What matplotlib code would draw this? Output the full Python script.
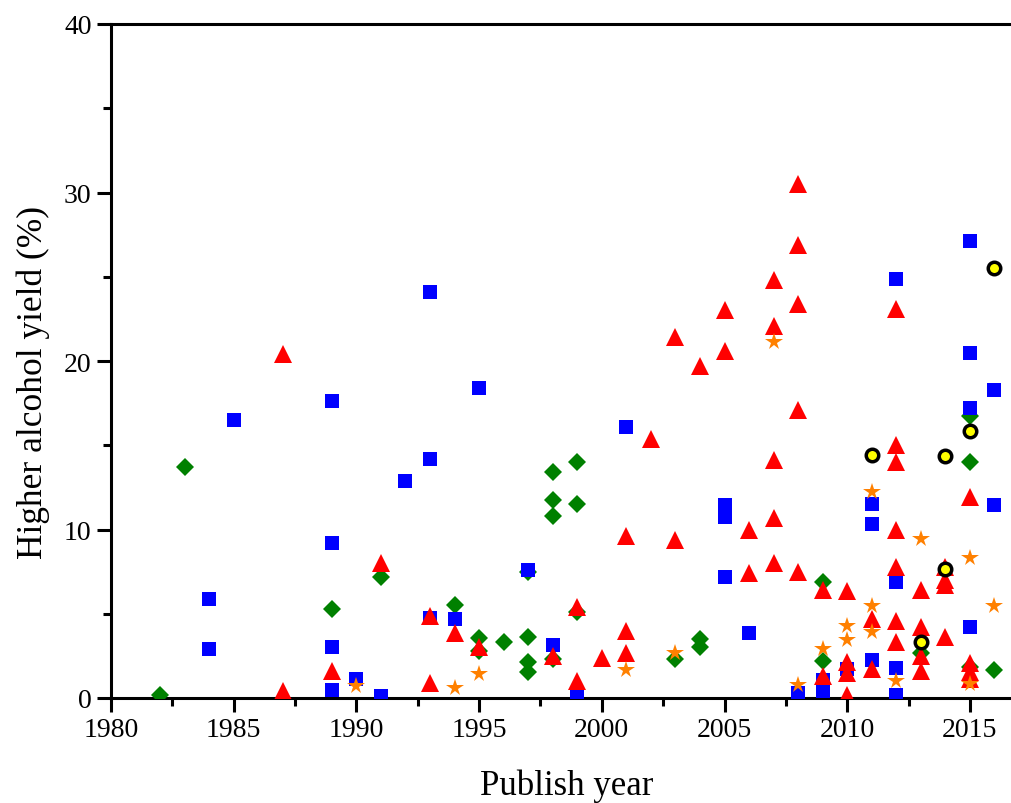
import matplotlib
matplotlib.use("Agg")
import matplotlib.pyplot as plt
from matplotlib.ticker import MultipleLocator

# yield data per catalyst family (publish year, higher alcohol yield %)
blue_years = [1984, 1984, 1985, 1989, 1989, 1989, 1989, 1990, 1991, 1992,
              1993, 1993, 1993, 1994, 1995, 1997, 1998, 1999, 2001, 2005,
              2005, 2005, 2006, 2008, 2009, 2009, 2010, 2011, 2011, 2011,
              2012, 2012, 2012, 2012, 2015, 2015, 2015, 2015, 2016, 2016]
blue_vals = [5.9, 2.9, 16.5, 17.6, 9.2, 3.0, 0.5, 1.1, 0.1, 12.9,
             24.1, 14.2, 4.75, 4.7, 18.4, 7.6, 3.15, 0.3, 16.1, 11.45,
             10.75, 7.2, 3.85, 0.3, 1.07, 0.42, 1.7, 11.5, 10.3, 2.25,
             24.85, 6.9, 1.8, 0.2, 27.1, 20.5, 17.2, 4.2, 18.3, 11.45]

red_years = [1987, 1987, 1989, 1991, 1993, 1993, 1994, 1995, 1998, 1999,
             1999, 2000, 2001, 2001, 2001, 2002, 2003, 2003, 2004, 2005,
             2005, 2006, 2006, 2007, 2007, 2007, 2007, 2007, 2008, 2008,
             2008, 2008, 2008, 2009, 2009, 2010, 2010, 2010, 2010, 2011,
             2011, 2012, 2012, 2012, 2012, 2012, 2012, 2012, 2013, 2013,
             2013, 2013, 2014, 2014, 2014, 2014, 2015, 2015, 2015, 2015]
red_vals = [20.4, 0.4, 1.6, 8.0, 4.85, 0.9, 3.85, 3.05, 2.5, 5.4,
            1.0, 2.35, 9.6, 3.95, 2.65, 15.4, 21.4, 9.4, 19.7, 23.05,
            20.6, 10.0, 7.4, 24.8, 22.1, 14.1, 10.7, 8.0, 30.5, 26.9,
            23.4, 17.1, 7.5, 6.4, 1.3, 6.35, 2.15, 1.5, 0.2, 4.7,
            1.72, 23.1, 15.0, 14.0, 10.0, 7.8, 4.58, 3.34, 6.4, 4.2,
            2.5, 1.6, 7.8, 7.0, 6.7, 3.6, 11.95, 2.06, 1.52, 1.15]

green_years = [1982, 1983, 1989, 1991, 1994, 1995, 1995, 1996, 1997, 1997,
               1997, 1997, 1998, 1998, 1998, 1998, 1999, 1999, 1999, 2003,
               2004, 2004, 2009, 2009, 2013, 2015, 2015, 2015, 2016]
green_vals = [0.2, 13.7, 5.3, 7.2, 5.5, 3.55, 2.8, 3.35, 7.5, 3.6,
              2.15, 1.55, 13.4, 11.75, 10.8, 2.3, 14.0, 11.5, 5.1, 2.3,
              3.5, 3.05, 6.9, 2.2, 2.7, 16.75, 14.0, 1.86, 1.65]

orange_years = [1990, 1994, 1995, 2001, 2003, 2007, 2008, 2009, 2010, 2010,
                2011, 2011, 2011, 2012, 2013, 2015, 2015, 2016]
orange_vals = [0.73, 0.57, 1.42, 1.68, 2.65, 21.1, 0.77, 2.9, 4.3, 3.46,
               12.2, 5.45, 3.9, 1.0, 9.43, 8.3, 0.83, 5.45]

yellow_years = [2011, 2013, 2014, 2014, 2015, 2016]
yellow_vals = [14.45, 3.35, 14.37, 7.63, 15.82, 25.5]

plt.rcParams['font.family'] = ['Liberation Serif', 'DejaVu Serif']

fig = plt.figure(figsize=(10.11, 8.04), dpi=100)
ax = fig.add_axes([111 / 1011, 105 / 804, 900 / 1011, 674 / 804])

ax.plot(green_years, green_vals, 'D', color='#008000', markersize=9.4, markeredgewidth=0, zorder=3)
ax.plot(blue_years, blue_vals, 's', color='#0000ff', markersize=9.4, markeredgewidth=0, zorder=4)
ax.plot(red_years, red_vals, '^', color='#ff0000', markersize=12.5, markeredgewidth=0, zorder=5)
ax.plot(orange_years, orange_vals, '*', color='#ff8000', markersize=13, markeredgewidth=0, zorder=6)
ax.plot(yellow_years, yellow_vals, 'o', markerfacecolor='#ffff00', markeredgecolor='black',
        markersize=9, markeredgewidth=2.5, zorder=7)

ax.set_xlim(1980, 1980 + 900 / 24.54)
ax.set_ylim(0, 40)
ax.xaxis.set_major_locator(MultipleLocator(5))
ax.xaxis.set_minor_locator(MultipleLocator(2.5))
ax.yaxis.set_major_locator(MultipleLocator(10))
ax.yaxis.set_minor_locator(MultipleLocator(5))

ax.spines['right'].set_visible(False)
for side in ['left', 'bottom', 'top']:
    ax.spines[side].set_linewidth(2.2)

ax.tick_params(which='major', direction='out', length=10, width=2.2, labelsize=20, pad=4)
ax.tick_params(which='minor', direction='out', length=6, width=2.2)
ax.tick_params(top=False, right=False)

ax.set_xlabel('Publish year', fontsize=25)
ax.xaxis.set_label_coords(0.5 + 6 / 900, -0.104)
ax.set_ylabel('Higher alcohol yield (%)', fontsize=25.5)
ax.yaxis.set_label_coords(-0.068, 0.47)

fig.savefig('out.png', dpi=100)
